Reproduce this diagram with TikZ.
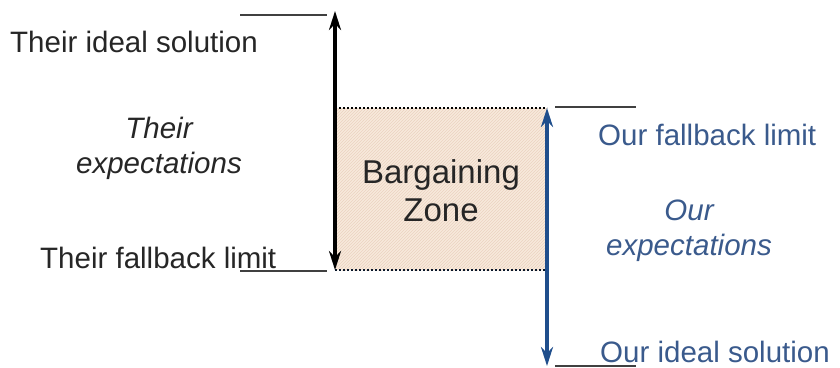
\documentclass[tikz,border=0pt]{standalone}
\usepackage{fontspec}
\setmainfont{Liberation Sans}
\usetikzlibrary{arrows.meta,patterns}
\definecolor{ourblue}{HTML}{1F4E8C}
\definecolor{ourtext}{HTML}{3A5A8C}
\definecolor{zonefill}{HTML}{F7E9DC}
\definecolor{hatch}{HTML}{EBD3C0}
\begin{document}
\begin{tikzpicture}[x=1pt,y=-1pt,
  lbl/.style={inner sep=0pt,font=\fontsize{29.5}{35}\selectfont},
  theirs/.style={lbl,text=black!85},
  ours/.style={lbl,text=ourtext},
  tick/.style={line width=1.4pt,draw=black!75},
  span/.style={line width=3.4pt,{Stealth[length=19pt,width=12pt]}-{Stealth[length=19pt,width=12pt]}}]
\useasboundingbox (0,0) rectangle (840,367);
% bargaining zone
\fill[zonefill] (335,108) rectangle (547,270);
\fill[pattern=north east lines,pattern color=hatch] (335,108) rectangle (547,270);
\draw[line width=2pt,dotted] (335,108) -- (547,108);
\draw[line width=2pt,dotted,draw=black!70!ourblue] (335,270) -- (547,270);
\node[lbl,font=\fontsize{33}{38}\selectfont,align=center,text=black!85] (zone) at (441,191) {Bargaining\\Zone};
% level marks
\coordinate (t1a) at (240,15); \coordinate (t1b) at (327,15);
\coordinate (t2a) at (240,271); \coordinate (t2b) at (327,271);
\coordinate (o1a) at (555,107); \coordinate (o1b) at (636,107);
\coordinate (o2a) at (555,366); \coordinate (o2b) at (636,366);
\draw[tick] (t1a) -- (t1b);
\draw[tick] (t2a) -- (t2b);
\draw[tick] (o1a) -- (o1b);
\draw[tick] (o2a) -- (o2b);
% ranges
\coordinate (tTop) at (335,11); \coordinate (tBot) at (335,270);
\coordinate (oTop) at (547,108); \coordinate (oBot) at (547,366);
\draw[span,black] (tBot) -- (tTop);
\draw[span,ourblue] (oBot) -- (oTop);
% their side labels
\node[theirs,anchor=base west] (tideal) at (10,52) {Their ideal solution};
\node[theirs,align=center,font=\itshape\fontsize{29.5}{35}\selectfont] (texp) at (159,148) {Their\\expectations};
\node[theirs,anchor=base west] (tfall) at (40,268) {Their fallback limit};
% our side labels
\node[ours,anchor=base west] (ofall) at (598,145) {Our fallback limit};
\node[ours,align=center,font=\itshape\fontsize{29.5}{35}\selectfont] (oexp) at (689,231) {Our\\expectations};
\node[ours,anchor=base west] (oideal) at (600,362) {Our ideal solution};
\end{tikzpicture}
\end{document}
